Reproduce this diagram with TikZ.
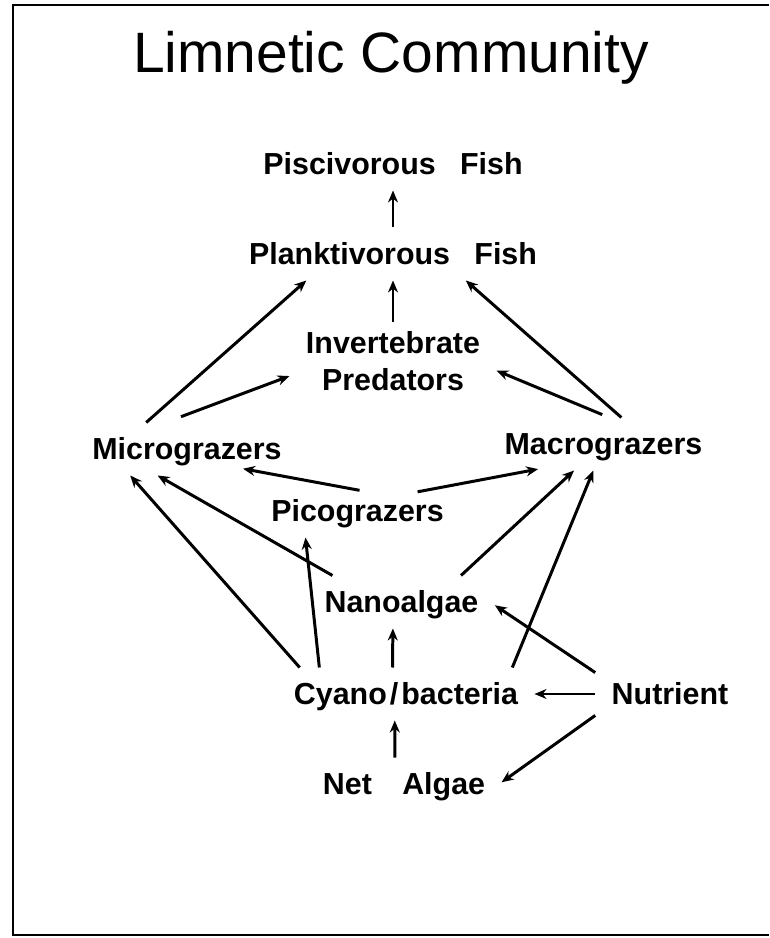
\documentclass[tikz,border=0pt]{standalone}
\usepackage{fontspec}
\setmainfont{Liberation Sans}
\usetikzlibrary{arrows.meta}
\begin{document}
\begin{tikzpicture}[>={Stealth[length=0.24cm,width=0.2cm]}, line width=1.7pt,
		taxon/.style={font=\fontsize{17.3}{21}\selectfont\bfseries, inner xsep=0.3cm, inner ysep=0.28cm, text height=0.44cm, text depth=0pt},
		feeds/.style={->}]
		\useasboundingbox (0,0) rectangle (15.38,18.76);
		% frame, open on the right
		\draw[line width=1.1pt] (15.38,18.66) -- (0.26,18.66) -- (0.26,0.06) -- (15.38,0.06);
		% title
		\node[anchor=base, font=\fontsize{32.4}{38}\selectfont] (title) at (7.82,17.3) {Limnetic Community};
		% consumers
		\node[taxon] (pisc) at (7.86,15.48) {Piscivorous\hspace{0.8em}Fish};
		\node[taxon] (plank) at (7.86,13.68) {Planktivorous\hspace{0.8em}Fish};
		\node[font=\fontsize{17.3}{21}\selectfont\bfseries, align=center, inner xsep=0.3cm, inner ysep=0.16cm] (invert) at (7.86,11.53) {Invertebrate\\Predators};
		\node[taxon] (micro) at (3.74,9.78) {Micrograzers};
		\node[taxon] (macro) at (12.07,9.88) {Macrograzers};
		\node[taxon] (pico) at (7.15,8.54) {Picograzers};
		% producers and nutrient
		\node[taxon] (nano) at (8.03,6.72) {Nanoalgae};
		\node[taxon] (cyano) at (8.12,4.88) {Cyano\hspace{0.1em}/\hspace{0.1em}bacteria};
		\node[taxon] (nutr) at (13.40,4.88) {Nutrient};
		\node[taxon] (netalg) at (8.08,3.08) {Net\hspace{1em}Algae};
		% food links
		\draw[feeds] (plank.north) -- (pisc.south);
		\draw[feeds] (invert.north) -- (plank.south);
		\draw[feeds] (micro.147) -- (plank.197);
		\draw[feeds, shorten <=0.33cm] (micro.129) -- (invert.188);
		\draw[feeds] (macro.56) -- (plank.340);
		\draw[feeds, shorten <=0.15cm] (macro.78) -- (invert.355);
		\draw[feeds, shorten <=-0.64cm, shorten >=-0.74cm] (pico.138) -- (micro.344);
		\draw[feeds, shorten <=-0.79cm, shorten >=-0.15cm] (pico.15) -- (macro.200);
		\draw[feeds] (nano.159) -- (micro.222);
		\draw[feeds] (cyano.166) -- (micro.205);
		\draw[feeds] (cyano.163) -- (pico.207);
		\draw[feeds] (nano.24) -- (macro.222);
		\draw[feeds] (cyano.14) -- (macro.249);
		\draw[feeds] (cyano.117) -- (nano.252);
		\draw[feeds] (netalg.109) -- (cyano.247);
		\draw[feeds] (nutr.west) -- (cyano.east);
		\draw[feeds] (nutr.164) -- (nano.358);
		\draw[feeds] (nutr.196) -- (netalg.1);
	\end{tikzpicture}
\end{document}
